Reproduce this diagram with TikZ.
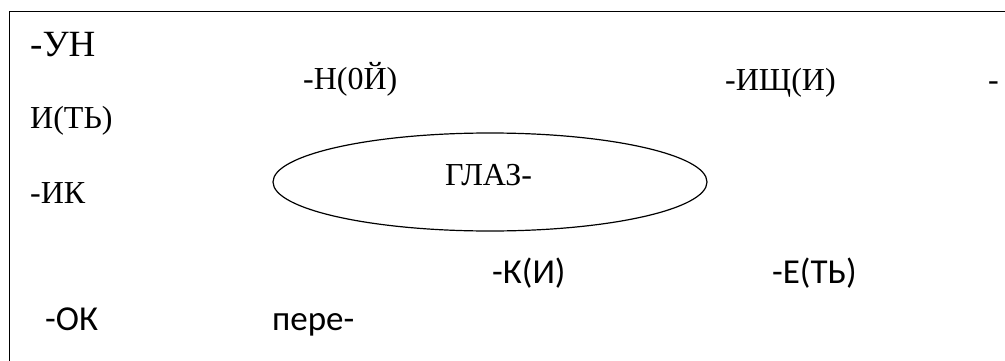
\documentclass[tikz,border=0pt]{standalone}
\usepackage{fontspec}
\setmainfont{Liberation Serif}
\newfontfamily\calibri{Carlito}
\usetikzlibrary{shapes.geometric}
\tikzset{
  lbl/.style={anchor=base west, inner sep=0pt},
  ser/.style={lbl, font=\fontsize{32}{36}\selectfont},
  big/.style={lbl, font=\fontsize{37}{40}\selectfont},
  sns/.style={lbl, font=\calibri\fontsize{35}{40}\selectfont},
  frame/.style={line width=1.3pt},
  oval/.style={draw, ellipse, line width=1.2pt, minimum width=434pt, minimum height=98pt, inner sep=0pt}
}
\begin{document}
\begin{tikzpicture}[x=1pt,y=1pt]
\useasboundingbox (0,0) rectangle (1005,360);
\coordinate (fb) at (9.5,-5);
\coordinate (fc) at (9.5,348.5);
\coordinate (fr) at (1010,348.5);
\draw[frame] (fb) -- (fc) -- (fr);
\node[oval] (eye) at (490,178) {};
\node[big] (un) at (30,304) {-УН};
\node[ser] (it) at (30,232) {И(ТЬ)};
\node[ser] (ik) at (30,157) {-ИК};
\node[ser] (noy) at (303,271) {-Н(0Й)};
\node[ser] (ishch) at (725,270) {-ИЩ(И)};
\node[ser] (dash) at (988,270) {-};
\node[ser] (glaz) at (445,175) {ГЛАЗ-};
\node[sns] (ki) at (492,77) {-К(И)};
\node[sns] (et) at (772,77) {-Е(ТЬ)};
\node[sns] (ok) at (45,30) {-ОК};
\node[sns] (pere) at (272,30) {пере-};
\end{tikzpicture}
\end{document}
